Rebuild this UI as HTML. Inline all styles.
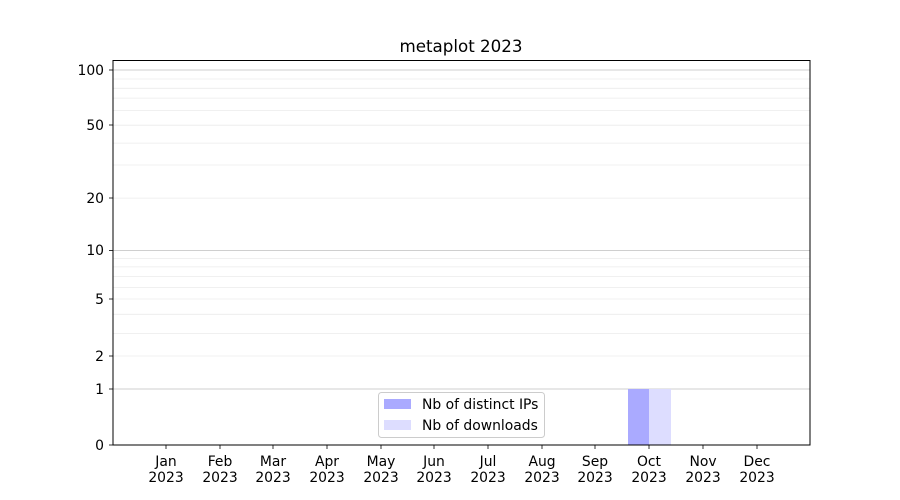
<!DOCTYPE html>
<html><head><meta charset="utf-8"><style>body{margin:0;background:#fff}svg{display:block;font-family:"DejaVu Sans","Liberation Sans",sans-serif}</style></head>
<body>
<svg width="900" height="500" viewBox="0 0 900 500" xmlns="http://www.w3.org/2000/svg">
<rect width="900" height="500" fill="#fff"/>
<g stroke="#ebebeb" stroke-width="0.8">
<line x1="113" x2="810" y1="333.4" y2="333.4"/>
<line x1="113" x2="810" y1="314.3" y2="314.3"/>
<line x1="113" x2="810" y1="287.4" y2="287.4"/>
<line x1="113" x2="810" y1="276.5" y2="276.5"/>
<line x1="113" x2="810" y1="266.9" y2="266.9"/>
<line x1="113" x2="810" y1="258.5" y2="258.5"/>
<line x1="113" x2="810" y1="198.1" y2="198.1"/>
<line x1="113" x2="810" y1="165.0" y2="165.0"/>
<line x1="113" x2="810" y1="143.1" y2="143.1"/>
<line x1="113" x2="810" y1="125.2" y2="125.2"/>
<line x1="113" x2="810" y1="110.4" y2="110.4"/>
<line x1="113" x2="810" y1="98.1" y2="98.1"/>
<line x1="113" x2="810" y1="88.3" y2="88.3"/>
<line x1="113" x2="810" y1="79.0" y2="79.0"/>
<line x1="113" x2="810" y1="356" y2="356"/>
<line x1="113" x2="810" y1="299" y2="299"/>
</g>
<g stroke="#cfcfcf" stroke-width="1">
<line x1="113" x2="810" y1="389" y2="389"/>
<line x1="113" x2="810" y1="250.5" y2="250.5"/>
<line x1="113" x2="810" y1="70" y2="70"/>
</g>
<rect x="628" y="389" width="21" height="56" fill="#aaaaff"/>
<rect x="649" y="389" width="22" height="56" fill="#ddddff"/>
<rect x="113" y="60.5" width="697" height="384.5" fill="none" stroke="#000" stroke-width="1"/>
<g stroke="#000" stroke-width="0.8">
<line x1="109" x2="113" y1="445" y2="445"/><line x1="109" x2="113" y1="389" y2="389"/><line x1="109" x2="113" y1="356" y2="356"/><line x1="109" x2="113" y1="299" y2="299"/><line x1="109" x2="113" y1="250.5" y2="250.5"/><line x1="109" x2="113" y1="198" y2="198"/><line x1="109" x2="113" y1="125" y2="125"/><line x1="109" x2="113" y1="70" y2="70"/>
<line x1="166" x2="166" y1="445" y2="449"/><line x1="220" x2="220" y1="445" y2="449"/><line x1="273" x2="273" y1="445" y2="449"/><line x1="327" x2="327" y1="445" y2="449"/><line x1="381" x2="381" y1="445" y2="449"/><line x1="434" x2="434" y1="445" y2="449"/><line x1="488" x2="488" y1="445" y2="449"/><line x1="542" x2="542" y1="445" y2="449"/><line x1="595" x2="595" y1="445" y2="449"/><line x1="649" x2="649" y1="445" y2="449"/><line x1="703" x2="703" y1="445" y2="449"/><line x1="757" x2="757" y1="445" y2="449"/>
</g>
<g font-size="13.9" fill="#000" text-anchor="end">
<text x="104" y="450">0</text><text x="104" y="394">1</text><text x="104" y="361">2</text><text x="104" y="304">5</text><text x="104" y="255">10</text><text x="104" y="203">20</text><text x="104" y="130">50</text><text x="104" y="75">100</text>
</g>
<g font-size="13.9" fill="#000" text-anchor="middle">
<text x="166" y="466">Jan</text><text x="166" y="482">2023</text>
<text x="220" y="466">Feb</text><text x="220" y="482">2023</text>
<text x="273" y="466">Mar</text><text x="273" y="482">2023</text>
<text x="327" y="466">Apr</text><text x="327" y="482">2023</text>
<text x="381" y="466">May</text><text x="381" y="482">2023</text>
<text x="434" y="466">Jun</text><text x="434" y="482">2023</text>
<text x="488" y="466">Jul</text><text x="488" y="482">2023</text>
<text x="542" y="466">Aug</text><text x="542" y="482">2023</text>
<text x="595" y="466">Sep</text><text x="595" y="482">2023</text>
<text x="649" y="466">Oct</text><text x="649" y="482">2023</text>
<text x="703" y="466">Nov</text><text x="703" y="482">2023</text>
<text x="757" y="466">Dec</text><text x="757" y="482">2023</text>
<text x="461" y="52" font-size="16.7">metaplot 2023</text>
</g>
<rect x="378.5" y="392.5" width="166" height="45" rx="3" fill="#fff" fill-opacity="0.8" stroke="#ccc"/>
<rect x="384" y="399" width="27" height="10" fill="#aaaaff"/>
<rect x="384" y="420" width="27" height="10" fill="#ddddff"/>
<g font-size="13.9" fill="#000"><text x="422" y="409">Nb of distinct IPs</text><text x="422" y="430">Nb of downloads</text></g>
</svg>
</body></html>
